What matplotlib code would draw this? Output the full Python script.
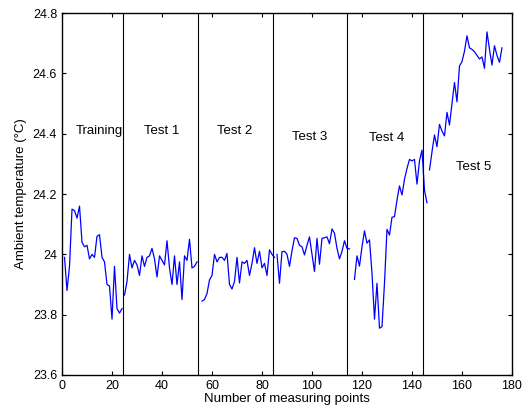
import numpy as np
import matplotlib.pyplot as plt
from matplotlib.ticker import FuncFormatter

plt.rcParams['font.family'] = ['Liberation Sans', 'DejaVu Sans']

#### measured temperatures, one list per phase ####
training = [23.99, 23.88, 23.96, 24.15, 24.145, 24.12, 24.16, 24.04, 24.025, 24.03,
            23.985, 24.0, 23.99, 24.06, 24.065, 23.99, 23.975, 23.90, 23.895, 23.785,
            23.96, 23.82, 23.805, 23.82]
test1 = [23.865, 23.91, 24.0, 23.955, 23.98, 23.965, 23.93, 23.995, 23.96, 23.99,
         23.995, 24.02, 23.985, 23.925, 23.995, 23.98, 23.965, 24.045, 23.955, 23.90,
         23.995, 23.90, 23.975, 23.85, 23.995, 23.98, 24.05, 23.955, 23.96, 23.975]
test2 = [23.845, 23.85, 23.87, 23.915, 23.93, 24.0, 23.975, 23.99, 23.99, 23.98,
         24.003, 23.9, 23.885, 23.91, 23.99, 23.905, 23.975, 23.97, 23.98, 23.93,
         23.97, 24.022, 23.97, 24.01, 23.955, 23.97, 23.93, 24.015, 24.0, 23.99]
test3 = [24.0, 23.904, 24.009, 24.01, 24.0, 23.96, 24.012, 24.055, 24.053, 24.03,
         24.025, 23.998, 24.03, 24.058, 24.0, 23.943, 24.053, 23.967, 24.053, 24.055,
         24.058, 24.035, 24.084, 24.07, 24.02, 23.985, 24.01, 24.045, 24.02, 24.018]
test4 = [23.917, 23.995, 23.961, 24.025, 24.078, 24.037, 24.048, 23.937, 23.785, 23.904,
         23.755, 23.76, 23.904, 24.083, 24.064, 24.123, 24.125, 24.18, 24.227, 24.197,
         24.249, 24.285, 24.315, 24.31, 24.315, 24.233, 24.31, 24.346, 24.213, 24.171]
test5 = [24.28, 24.34, 24.396, 24.357, 24.431, 24.409, 24.393, 24.471, 24.429, 24.5,
         24.57, 24.506, 24.625, 24.639, 24.674, 24.725, 24.685, 24.68, 24.672, 24.66,
         24.648, 24.655, 24.617, 24.738, 24.68, 24.628, 24.692, 24.66, 24.637, 24.685]

segments = [training, test1, test2, test3, test4, test5]
seg_start = [1, 25, 56, 86, 117, 147]
boundaries = [24.4, 54.4, 84.4, 114.2, 144.3]
labels = ['Training', 'Test 1', 'Test 2', 'Test 3', 'Test 4', 'Test 5']
label_x = [14.8, 40, 69, 99, 130, 164.5]
label_y = [24.41, 24.41, 24.41, 24.39, 24.385, 24.29]

fig = plt.figure(figsize=(5.3, 4.12), dpi=100)
ax = fig.add_axes([0.117, 0.090, 0.849, 0.878])

for start, vals in zip(seg_start, segments):
    x = np.arange(start, start + len(vals))
    ax.plot(x, vals, color='#0000ff', linewidth=0.9)

for b in boundaries:
    ax.axvline(b, color='k', linewidth=0.8)

for lx, ly, txt in zip(label_x, label_y, labels):
    ax.text(lx, ly, txt, ha='center', va='center', fontsize=9.5)

ax.set_xlim(0, 180)
ax.set_ylim(23.6, 24.8)
ax.set_xticks(np.arange(0, 181, 20))
ax.set_yticks(np.arange(23.6, 24.81, 0.2))
ax.yaxis.set_major_formatter(FuncFormatter(lambda v, p: ('%.1f' % v).rstrip('0').rstrip('.')))
ax.tick_params(direction='in', top=True, right=True, labelsize=9, length=3)
for s in ax.spines.values():
    s.set_linewidth(1.0)

ax.set_xlabel('Number of measuring points', fontsize=9.5, labelpad=1)
ax.set_ylabel('Ambient temperature (\u00b0C)', fontsize=9.5, labelpad=4)

fig.savefig('out.png', dpi=100)
